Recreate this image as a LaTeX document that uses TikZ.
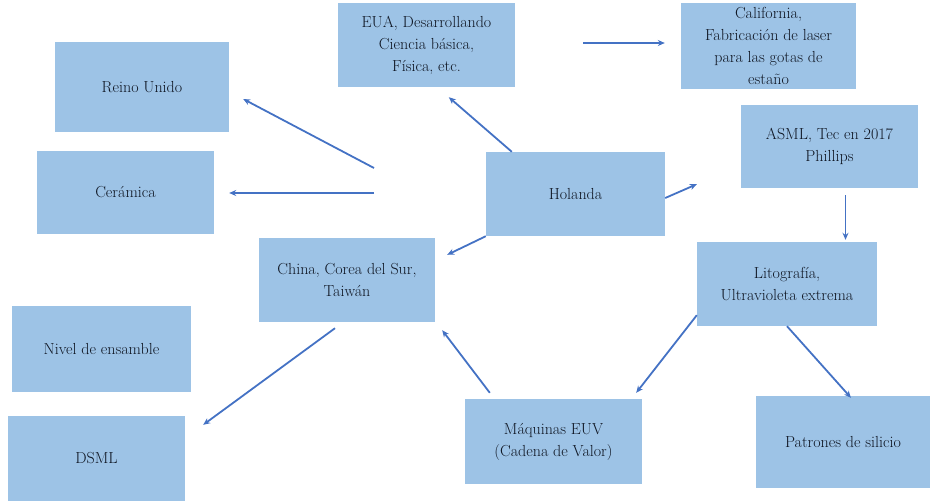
\documentclass[tikz,border=0pt]{standalone}
\usepackage{tikz}
\usetikzlibrary{calc}
\usetikzlibrary{arrows.meta}
\definecolor{cajaazul}{HTML}{9DC3E6}
\definecolor{flechaazul}{HTML}{4472C4}
\definecolor{textoazul}{HTML}{0F1623}
\tikzset{
  caja/.style={fill=cajaazul, inner sep=2pt, align=center, text=textoazul,
    font=\fontsize{16}{22}\selectfont},
  flecha/.style={draw=flechaazul, line width=1.8pt, -{Stealth[length=7pt,width=6pt]}}
}
\newcommand{\cajanodo}[6]{\node[caja, minimum width=#4pt, minimum height=#5pt] (#1) at (#2,#3) {#6};}

\begin{document}
\begin{tikzpicture}[x=1pt, y=-1pt]
        \useasboundingbox (0,0) rectangle (933,501);
        % left column
        \cajanodo{reino}{142}{87}{174}{90}{Reino Unido}
        \cajanodo{ceramica}{125.5}{192.5}{177}{83}{Cerámica}
        \cajanodo{nivel}{101.5}{349}{179}{86}{Nivel de ensamble}
        \cajanodo{dsml}{96.5}{458.5}{177}{85}{DSML}
        % middle
        \cajanodo{eua}{426.5}{45}{177}{84}{EUA, Desarrollando\\Ciencia básica,\\Física, etc.}
        \cajanodo{holanda}{575.5}{194}{179}{84}{Holanda}
        \cajanodo{china}{347}{280}{176}{84}{China, Corea del Sur,\\Taiwán}
        \cajanodo{maquinas}{553.5}{441.5}{177}{85}{Máquinas EUV\\(Cadena de Valor)}
        % right column
        \cajanodo{california}{768.5}{46}{175}{86}{California,\\Fabricación de laser\\para las gotas de\\estaño}
        \cajanodo{asml}{829.5}{146.5}{177}{83}{ASML, Tec en 2017\\Phillips}
        \cajanodo{lito}{787}{284}{180}{84}{Litografía,\\Ultravioleta extrema}
        \cajanodo{patrones}{843}{442}{174}{92}{Patrones de silicio}
        % free starts
        \coordinate (o1) at (374,168);
        \coordinate (o2) at (374,193);
        % arrows
        \draw[flecha] ([xshift=68pt,yshift=2pt]eua.east) -- ([xshift=-16pt,yshift=3pt]california.west);
        \draw[flecha] ([xshift=26pt]holanda.north west) -- ([xshift=111pt,yshift=-10pt]eua.south west);
        \draw[flecha] ([yshift=-4pt]holanda.east) -- ([xshift=-44pt,yshift=4pt]asml.south west);
        \draw[flecha] (holanda.south west) -- ([xshift=12pt,yshift=-17pt]china.north east);
        \draw[flecha] (o1) -- ([xshift=14pt,yshift=-12pt]reino.east);
        \draw[flecha] (o2) -- ([xshift=15pt,yshift=-0.5pt]ceramica.east);
        \draw[flecha] ([xshift=16pt,yshift=-7pt]asml.south) -- ([xshift=16pt,yshift=2pt]asml.south |- lito.north);
        \draw[flecha] ([yshift=11pt]lito.south west) -- ([xshift=-6pt,yshift=6pt]maquinas.north east);
        \draw[flecha] (lito.south) -- ([xshift=8pt,yshift=-2pt]patrones.north);
        \draw[flecha] ([xshift=25pt,yshift=6pt]maquinas.north west) -- ([xshift=7pt,yshift=-8pt]china.south east);
        \draw[flecha] ([xshift=-12pt,yshift=-6pt]china.south) -- ([xshift=18pt,yshift=-9pt]dsml.north east);
    \end{tikzpicture}
\end{document}
